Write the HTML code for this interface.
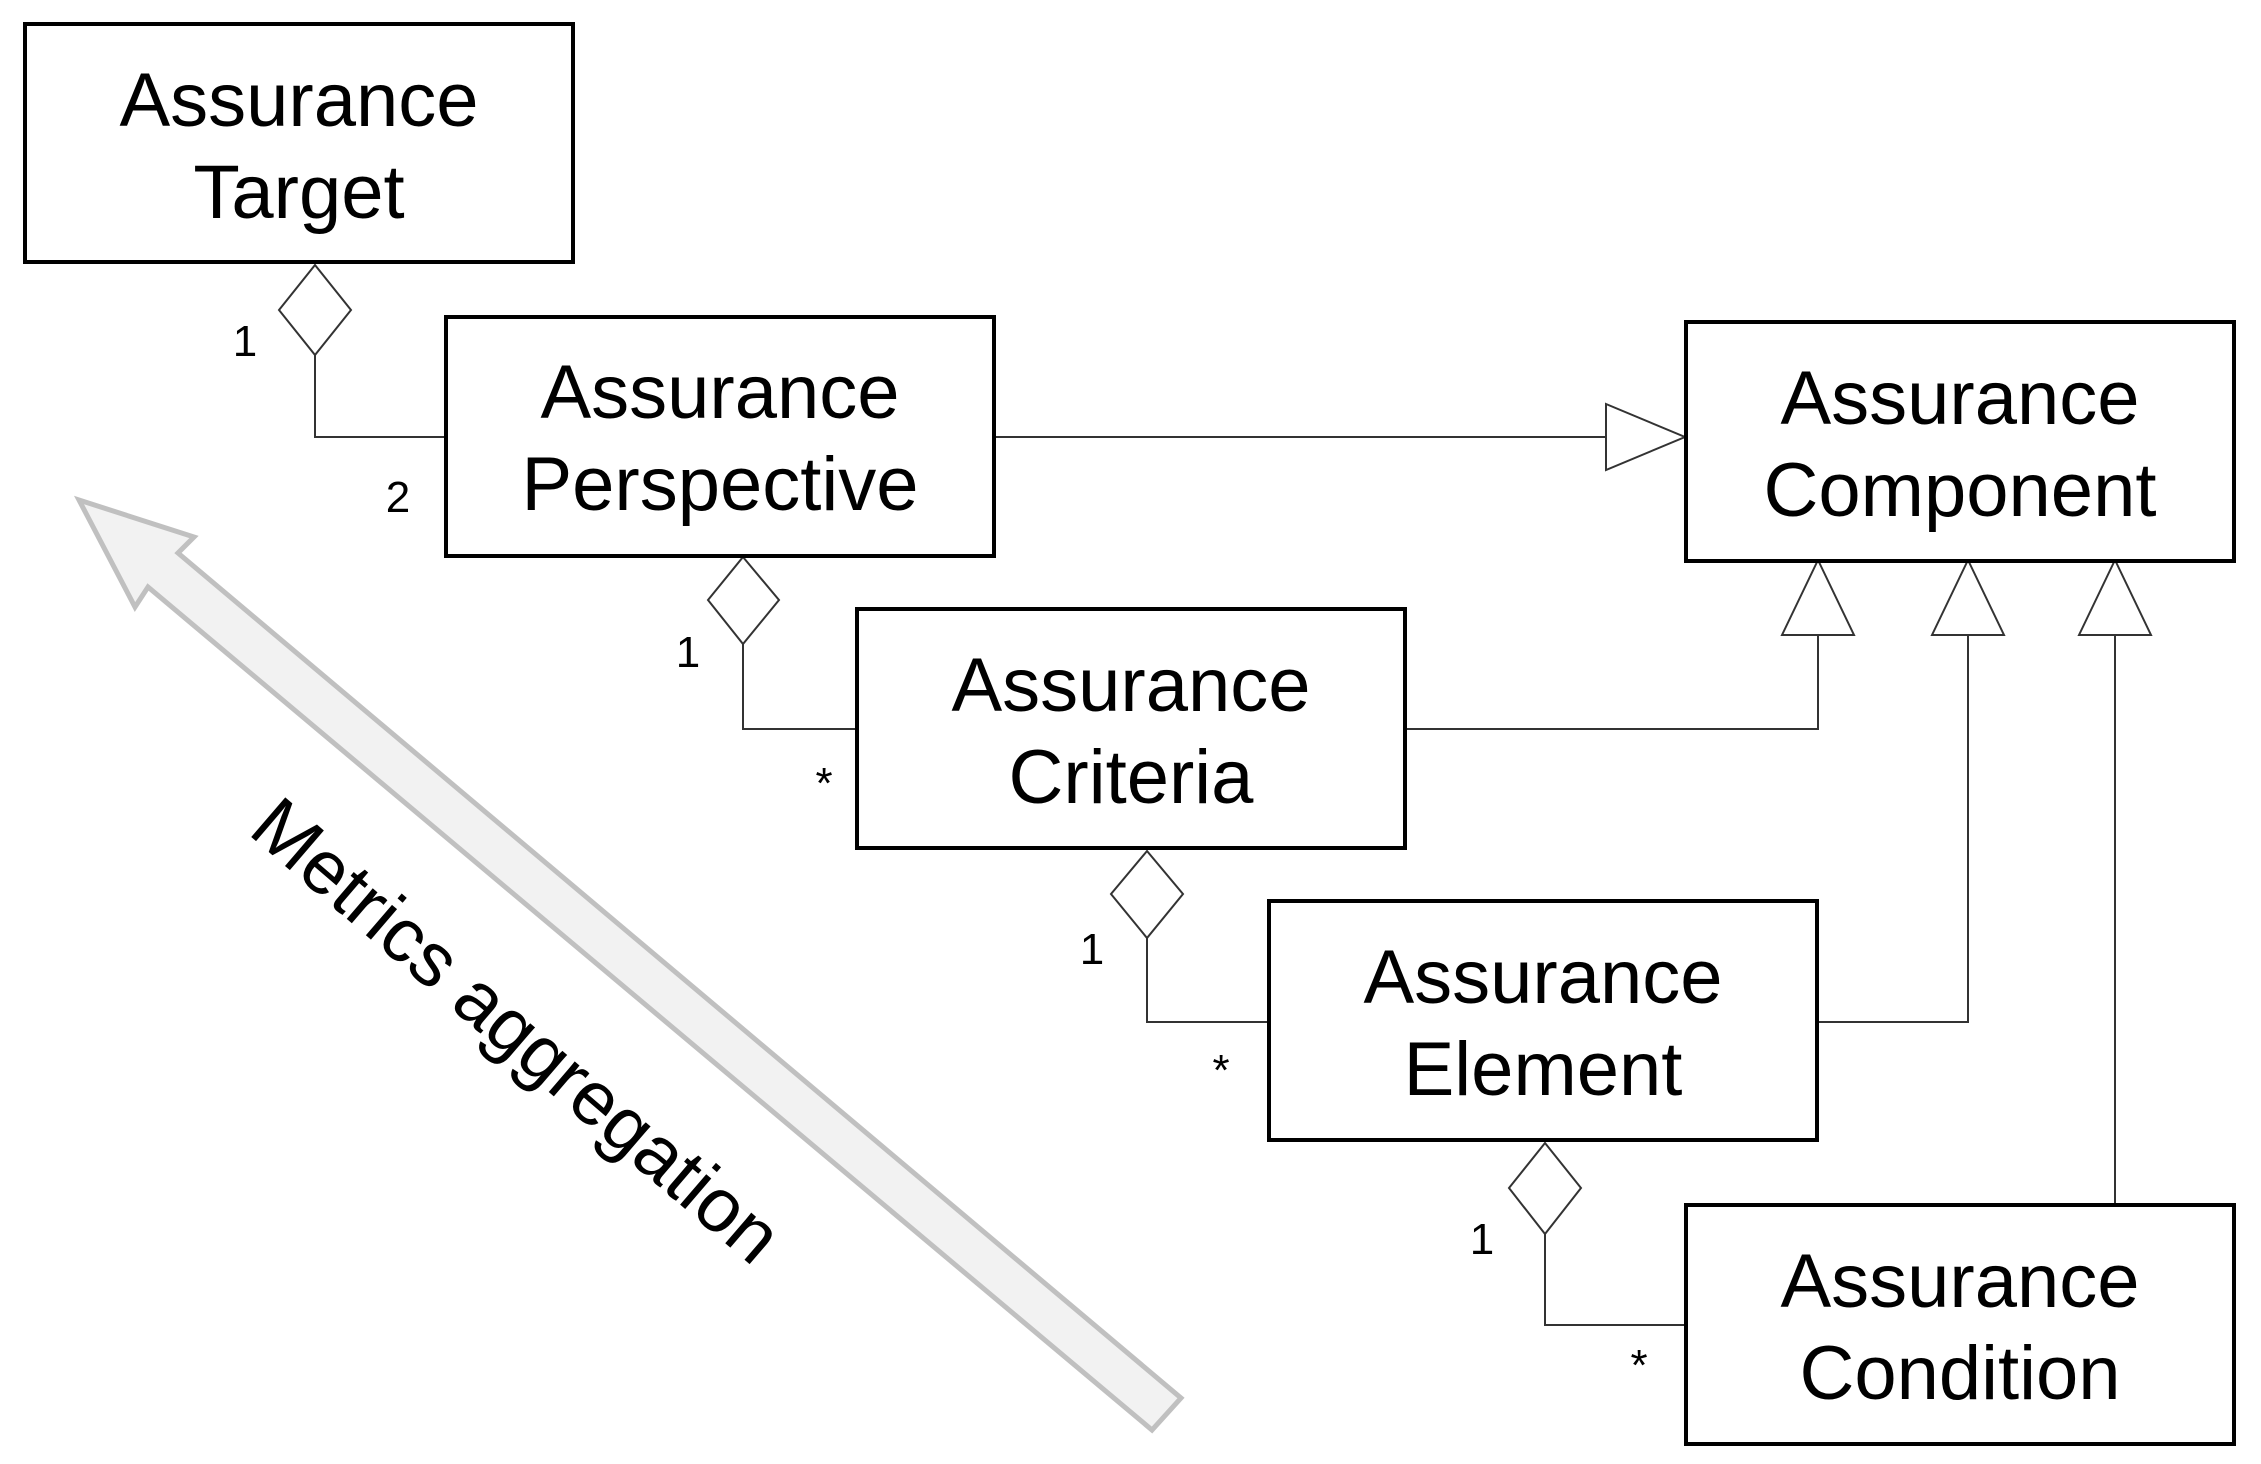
<!DOCTYPE html>
<html><head><meta charset="utf-8"><style>
html,body{margin:0;padding:0;background:#fff;}
svg{display:block;}
</style></head><body>
<svg width="2261" height="1464" viewBox="0 0 2261 1464" xmlns="http://www.w3.org/2000/svg" font-family="Liberation Sans, Arial, sans-serif">
<rect width="2261" height="1464" fill="#fff"/>
<polygon points="79,500 194,537 178,553 1181,1398 1152,1430 148,587 135,607" fill="#f2f2f2" stroke="#c0c0c0" stroke-width="5" stroke-linejoin="miter"/>
<text x="513" y="1035" font-size="76" text-anchor="middle" dominant-baseline="middle" transform="rotate(40.6 513 1035)" fill="#000">Metrics aggregation</text>

<g fill="none" stroke="#333" stroke-width="2">
<polyline points="315,355 315,437 445,437"/>
<polygon points="315,265 351,310 315,355 279,310" fill="#fff"/>
<line x1="994" y1="437" x2="1606" y2="437"/>
<polygon points="1606,404 1685,437 1606,470" fill="#fff"/>
<polyline points="743,644 743,729 856,729"/>
<polygon points="743,557 779,600 743,644 708,600" fill="#fff"/>
<polyline points="1405,729 1818,729 1818,635"/>
<polygon points="1782,635 1818,560 1854,635" fill="#fff"/>
<polyline points="1147,938 1147,1022 1268,1022"/>
<polygon points="1147,851 1183,894 1147,938 1111,894" fill="#fff"/>
<polyline points="1817,1022 1968,1022 1968,635"/>
<polygon points="1932,635 1968,560 2004,635" fill="#fff"/>
<line x1="2115" y1="1204" x2="2115" y2="635"/>
<polygon points="2079,635 2115,560 2151,635" fill="#fff"/>
<polyline points="1545,1234 1545,1325 1685,1325"/>
<polygon points="1545,1143 1581,1188 1545,1234 1509,1188" fill="#fff"/>
</g>

<g fill="#fff" stroke="#000" stroke-width="4">
<rect x="25" y="24" width="548" height="238"/>
<rect x="446" y="317" width="548" height="239"/>
<rect x="1686" y="322" width="548" height="239"/>
<rect x="857" y="609" width="548" height="239"/>
<rect x="1269" y="901" width="548" height="239"/>
<rect x="1686" y="1205" width="548" height="239"/>
</g>

<g font-size="76" text-anchor="middle" fill="#000">
<text x="299" y="126">Assurance</text><text x="299" y="218">Target</text>
<text x="720" y="418">Assurance</text><text x="720" y="510">Perspective</text>
<text x="1960" y="424">Assurance</text><text x="1960" y="516">Component</text>
<text x="1131" y="711">Assurance</text><text x="1131" y="803">Criteria</text>
<text x="1543" y="1003">Assurance</text><text x="1543" y="1095">Element</text>
<text x="1960" y="1307">Assurance</text><text x="1960" y="1399">Condition</text>
</g>

<g font-size="44" text-anchor="middle" fill="#000">
<text x="245" y="356">1</text>
<text x="398" y="512">2</text>
<text x="688" y="667">1</text>
<text x="824" y="798">*</text>
<text x="1092" y="964">1</text>
<text x="1221" y="1085">*</text>
<text x="1482" y="1254">1</text>
<text x="1639" y="1380">*</text>
</g>
</svg>
</body></html>
